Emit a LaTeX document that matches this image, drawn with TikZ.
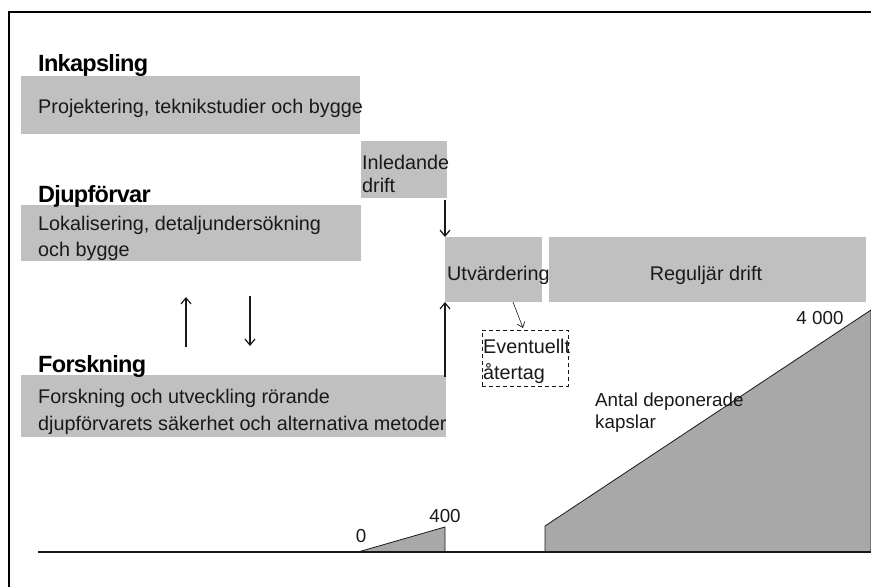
\documentclass[tikz,border=0pt]{standalone}
\usepackage{fontspec}
\setmainfont{Liberation Sans}
\newfontfamily\titlefont[LetterSpace=-3.0]{Liberation Sans}
\usetikzlibrary{arrows.meta,calc}
\definecolor{boxgray}{RGB}{192,192,192}
\definecolor{areagray}{RGB}{168,168,168}
\definecolor{ink}{RGB}{28,24,24}
\begin{document}
\begin{tikzpicture}[x=1pt,y=-1pt,
  gbox/.style={fill=boxgray, draw=none, inner sep=0pt, outer sep=0pt, anchor=north west},
  dbox/.style={draw=ink, dashed, dash pattern=on 4pt off 3pt, line width=0.9pt, inner sep=0pt, outer sep=0pt, anchor=north west},
  body/.style={font=\fontsize{19.8}{23}\selectfont, inner sep=0pt, anchor=base west, text=ink},
  small/.style={font=\fontsize{18.8}{22}\selectfont, inner sep=0pt, anchor=base west, text=ink},
  ttl/.style={font=\titlefont\bfseries\fontsize{23.5}{27}\selectfont, inner sep=0pt, anchor=base west, text=black},
  arr/.style={draw=ink, line width=1.4pt, -{Straight Barb[length=6pt,width=10pt,line width=1.2pt]}},
  thinarr/.style={draw=ink, line width=0.6pt, -{Straight Barb[length=5pt,width=8pt,line width=0.7pt]}},
  area/.style={fill=areagray, draw=ink, line width=0.8pt, line join=miter}
]
\useasboundingbox (0,0) rectangle (871,587);

% frame (cut at right and bottom)
\draw[line width=2pt, black] (9,587) -- (9,12) -- (871,12);

% grey boxes
\node[gbox, minimum width=339pt, minimum height=58pt] (ink) at (21,76) {};
\node[gbox, minimum width=340pt, minimum height=56pt] (djf) at (21,205) {};
\node[gbox, minimum width=86pt, minimum height=57pt] (ind) at (361,141) {};
\node[gbox, minimum width=97pt, minimum height=65pt] (utv) at (445,237) {};
\node[gbox, minimum width=317pt, minimum height=65pt] (reg) at (549,237) {};
\node[gbox, minimum width=425pt, minimum height=62pt] (fou) at (21,375) {};
\node[dbox, minimum width=86pt, minimum height=56pt] (evt) at (482,330) {};

% titles
\node[ttl] (tInk) at (38,71) {Inkapsling};
\node[ttl] (tDjf) at (38,202) {Djupförvar};
\node[ttl] (tFou) at (38,372) {Forskning};

% texts
\node[body] (xInk) at (38,113) {Projektering, teknikstudier och bygge};
\node[body] (xDjf1) at (38,230) {Lokalisering, detaljundersökning};
\node[body] (xDjf2) at (38,256) {och bygge};
\node[body] (xInd1) at (362,169) {Inledande};
\node[body] (xInd2) at (362,192) {drift};
\node[body] (xUtv) at (447,280) {Utvärdering};
\node[body, anchor=base] (xReg) at (706,280) {Reguljär drift};
\node[body] (xEvt1) at (483,353) {Eventuellt};
\node[body] (xEvt2) at (483,379) {återtag};
\node[body] (xFou1) at (38,403) {Forskning och utveckling rörande};
\node[body] (xFou2) at (38,430) {djupförvarets säkerhet och alternativa metoder};

% connectors
\draw[arr, shorten <=2pt] (ind.south -| utv.west) -- (utv.north west);
\draw[arr, shorten <=-2pt] (utv.west |- fou.north) -- (utv.south west);
\coordinate (e1) at (513,302);
\coordinate (e2) at (523,328);
\draw[thinarr] (e1) -- (e2);
\coordinate (u1) at (186,347);
\coordinate (u2) at (186,297);
\coordinate (d1) at (250,296);
\coordinate (d2) at (250,346);
\draw[arr] (u1) -- (u2);
\draw[arr] (d1) -- (d2);

% deposited canisters chart
\draw[area] (358,552) -- (445,527) -- (445,552) -- cycle;
\draw[area] (545,552) -- (545,526) -- (871,310) -- (871,552);
\draw[line width=1.2pt, ink] (38,552) -- (871,552);

\node[small, anchor=base] (n0) at (361,542) {0};
\node[small, anchor=base] (n400) at (445,522) {400};
\node[small, anchor=base] (n4000) at (820,324) {4 000};
\node[small] (xAnt1) at (595,406) {Antal deponerade};
\node[small] (xAnt2) at (595,428) {kapslar};
\end{tikzpicture}
\end{document}
